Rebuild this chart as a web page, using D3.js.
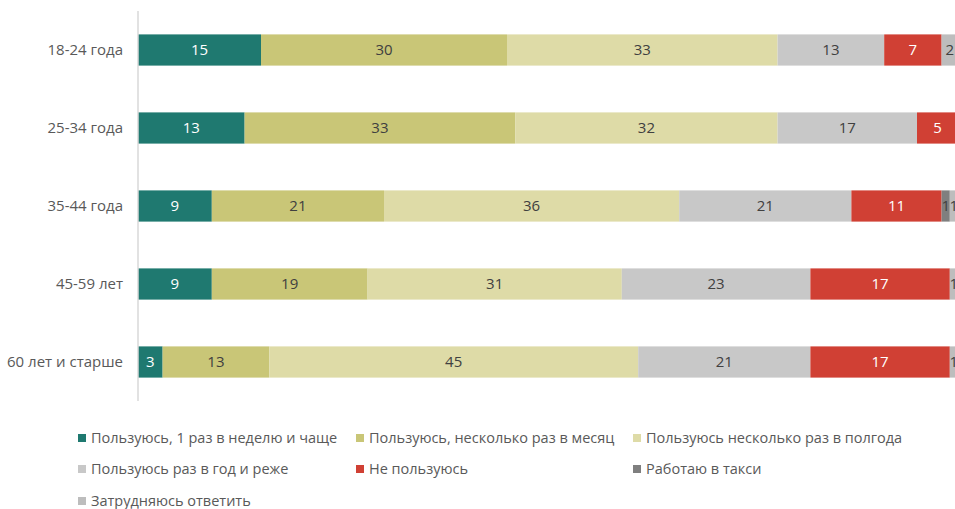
<!DOCTYPE html>
<html>
<head>
<meta charset="utf-8">
<script src="https://cdn.jsdelivr.net/npm/d3@7"></script>
<style>
  html, body { margin: 0; padding: 0; background: #fff; }
  svg { display: block; font-family: "Open Sans", "Noto Sans", sans-serif; }
</style>
</head>
<body>
<svg id="chart" width="955" height="509"></svg>
<script>
// Age groups (rows, top to bottom)
const categories = ["18-24 года", "25-34 года", "35-44 года", "45-59 лет", "60 лет и старше"];

// Share of respondents, % per age group
const weekly     = [15, 13, 9, 9, 3];
const monthly    = [30, 33, 21, 19, 13];
const halfYearly = [33, 32, 36, 31, 45];
const yearly     = [13, 17, 21, 23, 21];
const notUsing   = [7, 5, 11, 17, 17];
const taxiDriver = [0, 0, 1, 0, 0];
const unsure     = [2, 0, 1, 1, 1];

const seriesNames = [
  "Пользуюсь, 1 раз в неделю и чаще",
  "Пользуюсь, несколько раз в месяц",
  "Пользуюсь несколько раз в полгода",
  "Пользуюсь раз в год и реже",
  "Не пользуюсь",
  "Работаю в такси",
  "Затрудняюсь ответить"
];
const seriesValues = [weekly, monthly, halfYearly, yearly, notUsing, taxiDriver, unsure];
const seriesColors = ["#1f7970", "#c9c677", "#dedba7", "#c8c8c8", "#d04034", "#7f7f7f", "#bdbdbd"];
const labelColors  = ["#ffffff", "#404040", "#404040", "#404040", "#ffffff", "#404040", "#404040"];

const svg = d3.select("#chart");

// Build rows for the stack layout
const keys = seriesNames.map((_, i) => "s" + i);
const rows = categories.map((c, r) => {
  const o = { category: c };
  keys.forEach((k, i) => { o[k] = seriesValues[i][r]; });
  return o;
});
const stacked = d3.stack().keys(keys)(rows);

const x = d3.scaleLinear().domain([0, 100]).range([138, 958]);
const y = d3.scaleBand().domain(categories).range([11, 401])
  .paddingInner(0.6).paddingOuter(0.3);

// Bars
const layers = svg.append("g").selectAll("g")
  .data(stacked)
  .join("g")
  .attr("fill", (d, i) => seriesColors[i]);

layers.selectAll("rect")
  .data(d => d.map(p => ({ p, cat: p.data.category })))
  .join("rect")
  .attr("x", d => x(d.p[0]))
  .attr("y", d => y(d.cat))
  .attr("width", d => x(d.p[1]) - x(d.p[0]))
  .attr("height", y.bandwidth());

// Value labels
stacked.forEach((layer, i) => {
  svg.append("g")
    .selectAll("text")
    .data(layer.filter(p => p[1] - p[0] > 0))
    .join("text")
    .attr("x", p => (x(p[0]) + x(p[1])) / 2)
    .attr("y", p => y(p.data.category) + y.bandwidth() / 2)
    .attr("dy", "0.36em")
    .attr("text-anchor", "middle")
    .attr("font-size", 15)
    .attr("fill", labelColors[i])
    .text(p => p[1] - p[0]);
});

// Category axis
const yAxis = svg.append("g")
  .attr("transform", "translate(138,0)")
  .call(d3.axisLeft(y).tickSize(0).tickPadding(15));
yAxis.select(".domain").attr("stroke", "#d9d9d9").attr("stroke-width", 1.5)
  .attr("d", "M0,11V401");
yAxis.selectAll("text").attr("font-size", 15).attr("fill", "#595959")
  .attr("font-family", "\"Open Sans\", sans-serif");

// Legend: three columns
const legendCols = [78, 356, 633];
const legendRows = [438, 469, 501];
const legend = svg.append("g").selectAll("g")
  .data(seriesNames)
  .join("g")
  .attr("transform", (d, i) => `translate(${legendCols[i % 3]},${legendRows[Math.floor(i / 3)]})`);
legend.append("rect")
  .attr("x", 0).attr("y", -4).attr("width", 8).attr("height", 8)
  .attr("fill", (d, i) => seriesColors[i]);
legend.append("text")
  .attr("x", 13).attr("dy", "0.35em")
  .attr("font-size", 14.5).attr("fill", "#595959")
  .text(d => d);
</script>
</body>
</html>
